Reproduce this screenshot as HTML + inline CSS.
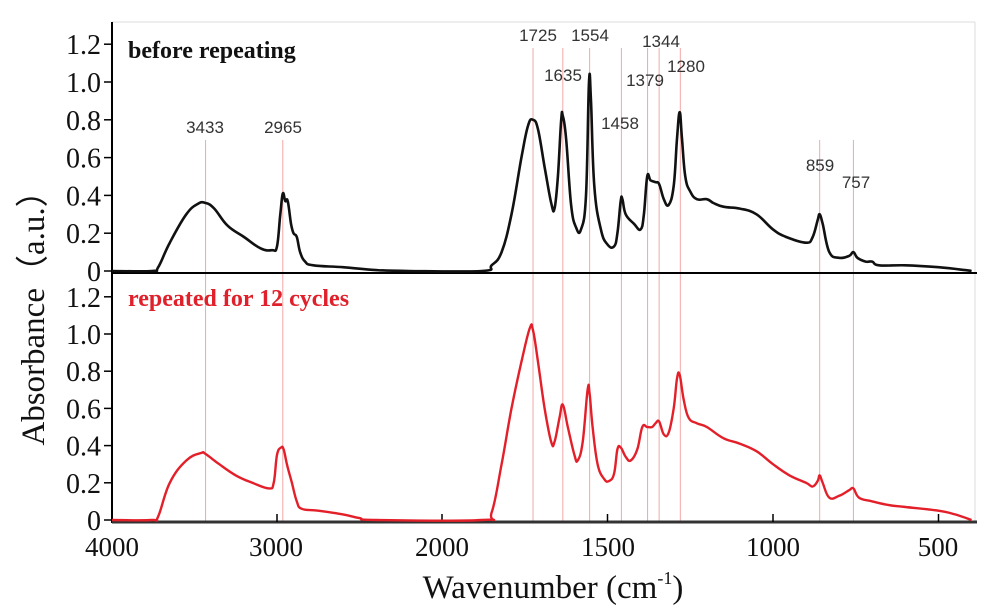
<!DOCTYPE html>
<html><head><meta charset="utf-8"><style>body{margin:0;background:#fff}svg{display:block}</style></head>
<body>
<svg id="s" width="1000" height="612" viewBox="0 0 1000 612" xmlns="http://www.w3.org/2000/svg" font-family="Liberation Serif, serif">
<rect width="1000" height="612" fill="#fff"/>
<g id="vl"></g>
<line x1="112" y1="22" x2="975" y2="22" stroke="#ddd" stroke-width="1"/>
<line x1="975" y1="22" x2="975" y2="522" stroke="#ddd" stroke-width="1"/>
<line x1="112" y1="22" x2="112" y2="523" stroke="#000" stroke-width="2"/>
<line x1="112" y1="273" x2="977" y2="273" stroke="#000" stroke-width="2"/>
<line x1="112" y1="522" x2="977" y2="522" stroke="#333" stroke-width="3"/>
<g id="ticks" stroke="#000" stroke-width="1.5"></g>
<g id="yl" font-size="28" text-anchor="end" fill="#111"></g>
<g font-size="27" text-anchor="middle" fill="#111">
<text x="112" y="556">4000</text><text x="276" y="556">3000</text><text x="442" y="556">2000</text>
<text x="608" y="556">1500</text><text x="773" y="556">1000</text><text x="938" y="556">500</text>
</g>
<text x="553" y="598" font-size="33" text-anchor="middle" fill="#111">Wavenumber (cm<tspan font-size="18" dy="-14">-1</tspan><tspan dy="14">)</tspan></text>
<text transform="translate(44,310) rotate(-90)" font-size="33" text-anchor="middle" fill="#111">Absorbance（a.u.）</text>
<text x="128" y="58" font-size="24" font-weight="bold" fill="#111">before repeating</text>
<text x="128" y="306" font-size="24" font-weight="bold" fill="#e0202a">repeated for 12 cycles</text>
<g font-family="Liberation Sans, sans-serif" font-size="17" fill="#333" text-anchor="middle">
<text x="205" y="133">3433</text><text x="283" y="133">2965</text>
<text x="538" y="41">1725</text><text x="590" y="41">1554</text><text x="563" y="81">1635</text>
<text x="661" y="47">1344</text><text x="645" y="86">1379</text><text x="686" y="72">1280</text>
<text x="620" y="129">1458</text><text x="820" y="171">859</text><text x="856" y="188">757</text>
</g>
<path id="c1" fill="none" stroke="#111" stroke-width="2.6" stroke-linejoin="round"/>
<path id="c2" fill="none" stroke="#e3202a" stroke-width="2.4" stroke-linejoin="round"/>
</svg>
<script>
function X(w){return w>=2000?112+(4000-w)*0.165:442+(2000-w)*0.331;}
var ns="http://www.w3.org/2000/svg";
function el(p,t,a,txt){var e=document.createElementNS(ns,t);for(var k in a)e.setAttribute(k,a[k]);if(txt)e.textContent=txt;document.getElementById(p).appendChild(e);}
[3433,2965,1725,1635,1554,1458,1379,1344,1280,859,757].forEach(function(w){var x=X(w);el("vl","line",{x1:x,y1:(w<2000&&w>1250)?48:140,x2:x,y2:522,stroke:"#f2a8a8","stroke-width":1});});
var labs=["0","0.2","0.4","0.6","0.8","1.0","1.2"];
for(var i=0;i<7;i++){var y1=271-i*37.8,y2=520-i*37.2;
el("ticks","line",{x1:104,y1:y1,x2:112,y2:y1});el("ticks","line",{x1:104,y1:y2,x2:112,y2:y2});
el("yl","text",{x:101,y:y1+10},labs[i]);el("yl","text",{x:101,y:y2+10},labs[i]);}
[3000,2000,1500,1000,500].forEach(function(w){var x=X(w);el("ticks","line",{x1:x,y1:514,x2:x,y2:522});});
var a=[4000,0,3760,0,3720,0.02,3650,0.15,3550,0.30,3480,0.355,3433,0.36,3380,0.33,3300,0.24,3200,0.18,3100,0.12,3030,0.11,3000,0.13,2980,0.3,2965,0.41,2950,0.37,2935,0.37,2915,0.25,2900,0.2,2880,0.18,2860,0.1,2830,0.05,2780,0.03,2600,0.02,2400,0.005,2200,0,1880,0,1850,0.03,1820,0.1,1790,0.3,1760,0.6,1740,0.77,1725,0.8,1710,0.75,1690,0.55,1670,0.36,1660,0.33,1650,0.5,1640,0.8,1635,0.82,1625,0.7,1610,0.35,1595,0.23,1580,0.22,1565,0.4,1556,1.0,1550,0.9,1540,0.45,1520,0.22,1500,0.14,1480,0.13,1470,0.2,1460,0.37,1455,0.38,1445,0.3,1420,0.25,1400,0.22,1390,0.3,1380,0.5,1370,0.48,1355,0.47,1344,0.46,1330,0.38,1315,0.35,1300,0.45,1290,0.7,1282,0.84,1275,0.7,1265,0.5,1250,0.42,1230,0.38,1200,0.38,1180,0.36,1150,0.34,1100,0.33,1050,0.3,1000,0.22,960,0.18,900,0.15,880,0.18,865,0.27,859,0.3,850,0.25,830,0.1,800,0.07,770,0.08,757,0.1,745,0.07,720,0.05,700,0.05,680,0.03,600,0.03,500,0.02,420,0.005,400,0];
var b=[4000,0,3760,0,3720,0.02,3650,0.2,3550,0.32,3460,0.36,3433,0.355,3350,0.3,3250,0.24,3150,0.2,3050,0.17,3020,0.2,3000,0.35,2975,0.39,2960,0.38,2940,0.3,2910,0.2,2880,0.1,2850,0.06,2750,0.05,2600,0.03,2500,0.01,2400,0,1880,0,1850,0.04,1820,0.3,1790,0.6,1760,0.85,1735,1.03,1725,1.02,1710,0.85,1690,0.6,1670,0.42,1660,0.42,1645,0.55,1635,0.62,1620,0.5,1600,0.35,1590,0.32,1575,0.42,1560,0.7,1554,0.68,1545,0.5,1530,0.3,1510,0.22,1495,0.21,1480,0.25,1470,0.38,1460,0.39,1445,0.34,1430,0.32,1410,0.38,1395,0.5,1380,0.5,1365,0.5,1355,0.52,1344,0.53,1330,0.46,1315,0.47,1300,0.6,1290,0.76,1282,0.78,1270,0.65,1255,0.55,1230,0.52,1200,0.5,1150,0.44,1100,0.41,1050,0.37,1000,0.3,950,0.24,900,0.2,880,0.18,865,0.21,859,0.24,850,0.2,830,0.12,800,0.13,770,0.16,757,0.17,740,0.12,700,0.1,650,0.08,600,0.07,500,0.05,450,0.03,400,0];
function P(d,z,s){var pts=[];for(var i=0;i<d.length;i+=2)pts.push([X(d[i]),z-d[i+1]*s]);
var p="M"+pts[0][0].toFixed(1)+","+pts[0][1].toFixed(1);
for(var i=0;i<pts.length-1;i++){var p0=pts[i-1]||pts[i],p1=pts[i],p2=pts[i+1],p3=pts[i+2]||p2;
var t=0.2;var c1x=p1[0]+(p2[0]-p0[0])*t,c1y=p1[1]+(p2[1]-p0[1])*t,c2x=p2[0]-(p3[0]-p1[0])*t,c2y=p2[1]-(p3[1]-p1[1])*t;
p+="C"+c1x.toFixed(1)+","+c1y.toFixed(1)+" "+c2x.toFixed(1)+","+c2y.toFixed(1)+" "+p2[0].toFixed(1)+","+p2[1].toFixed(1);}
return p;}
document.getElementById("c1").setAttribute("d",P(a,271,189));
document.getElementById("c2").setAttribute("d",P(b,520,186));
</script>
</body></html>
